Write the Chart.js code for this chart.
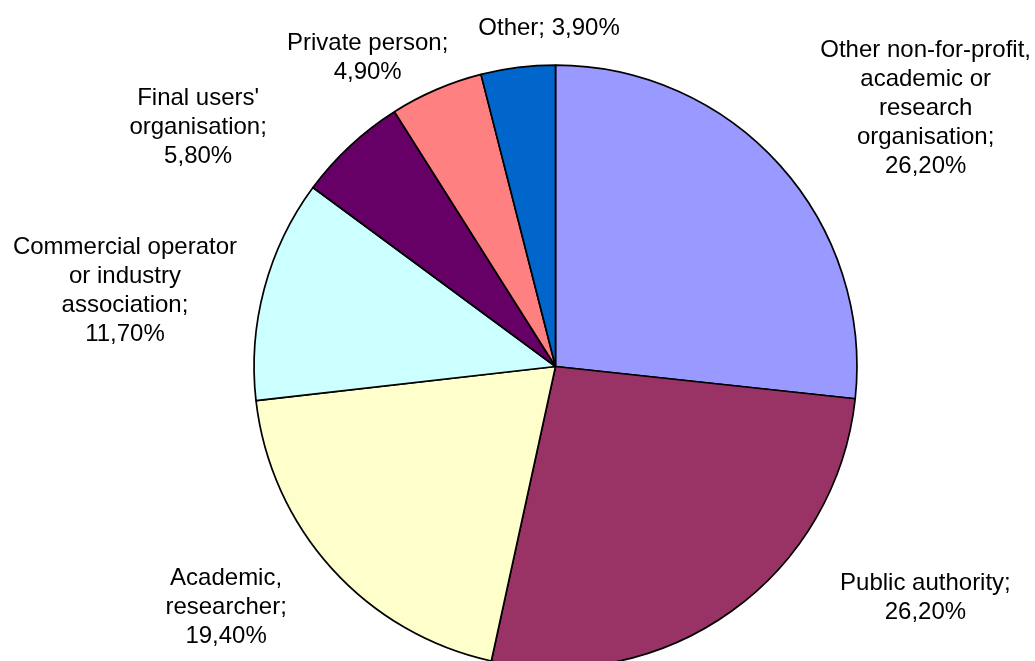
<!DOCTYPE html>
<html>
<head>
<meta charset="utf-8">
<style>
html,body{margin:0;padding:0;overflow:hidden;background:#ffffff;width:1035px;height:661px}
canvas{display:block}
</style>
<script src="https://cdn.jsdelivr.net/npm/chart.js@4.4.0/dist/chart.umd.min.js"></script>
</head>
<body>
<canvas id="c" width="1035" height="720"></canvas>
<script>
// ---- data ----
const categories = [
  "Other non-for-profit, academic or research organisation",
  "Public authority",
  "Academic, researcher",
  "Commercial operator or industry association",
  "Final users' organisation",
  "Private person",
  "Other"
];
const shares = [26.2, 26.2, 19.4, 11.7, 5.8, 4.9, 3.9];

// ---- label text wrapping (as in the original) ----
const labelLayout = [
  ["Other non-for-profit,", "academic or", "research", "organisation;", "{v}"],
  ["Public authority;", "{v}"],
  ["Academic,", "researcher;", "{v}"],
  ["Commercial operator", "or industry", "association;", "{v}"],
  ["Final users'", "organisation;", "{v}"],
  ["Private person;", "{v}"],
  ["Other; {v}"]
];

// ---- styles ----
const sliceColors = ["#9999FF", "#993366", "#FFFFCC", "#CCFFFF", "#660066", "#FF8080", "#0066CC"];
// manual label nudges (px) relative to the computed outside-end anchor
const labelNudge = [[58.5, -2], [136.7, -48.3], [-51.8, -0.8], [-19.4, 18.3], [-97, 20.4], [-31.9, 3.6], [41.4, -14.6]];

const fmt = v => v.toFixed(2).replace('.', ',') + '%';

const labelPlugin = {
  id: 'outLabels',
  afterDatasetsDraw(chart) {
    const ctx = chart.ctx;
    const meta = chart.getDatasetMeta(0);
    const LH = 29;
    ctx.save();
    ctx.font = '24px "Liberation Sans", Arial, sans-serif';
    ctx.fillStyle = '#000000';
    ctx.textAlign = 'center';
    ctx.textBaseline = 'alphabetic';
    meta.data.forEach((arc, i) => {
      const p = arc.getProps(['x', 'y', 'startAngle', 'endAngle', 'outerRadius'], true);
      const mid = (p.startAngle + p.endAngle) / 2;
      const ux = Math.cos(mid), uy = Math.sin(mid);
      const lines = labelLayout[i].map(s => s.replace('{v}', fmt(shares[i])));
      const w = Math.max(...lines.map(l => ctx.measureText(l).width));
      const h = lines.length * LH;
      const r = 301.5 + 12;
      const cx = p.x + r * ux + ux * w / 2 + labelNudge[i][0];
      const cy = p.y + r * uy + uy * h / 2 + labelNudge[i][1];
      lines.forEach((l, k) => {
        const yc = cy - h / 2 + LH * (k + 0.5);
        ctx.fillText(l, cx, yc + 8.5);
      });
    });
    ctx.restore();
  }
};

new Chart(document.getElementById('c'), {
  type: 'pie',
  data: {
    labels: categories,
    datasets: [{
      data: shares,
      backgroundColor: sliceColors,
      borderColor: '#000000',
      borderWidth: 1.7
    }]
  },
  options: {
    responsive: false,
    animation: false,
    devicePixelRatio: 1,
    layout: { padding: { top: 64.2, bottom: 51.2, left: 253.2, right: 177.2 } },
    plugins: { legend: { display: false }, tooltip: { enabled: false } }
  },
  plugins: [labelPlugin]
});
</script>
</body>
</html>
